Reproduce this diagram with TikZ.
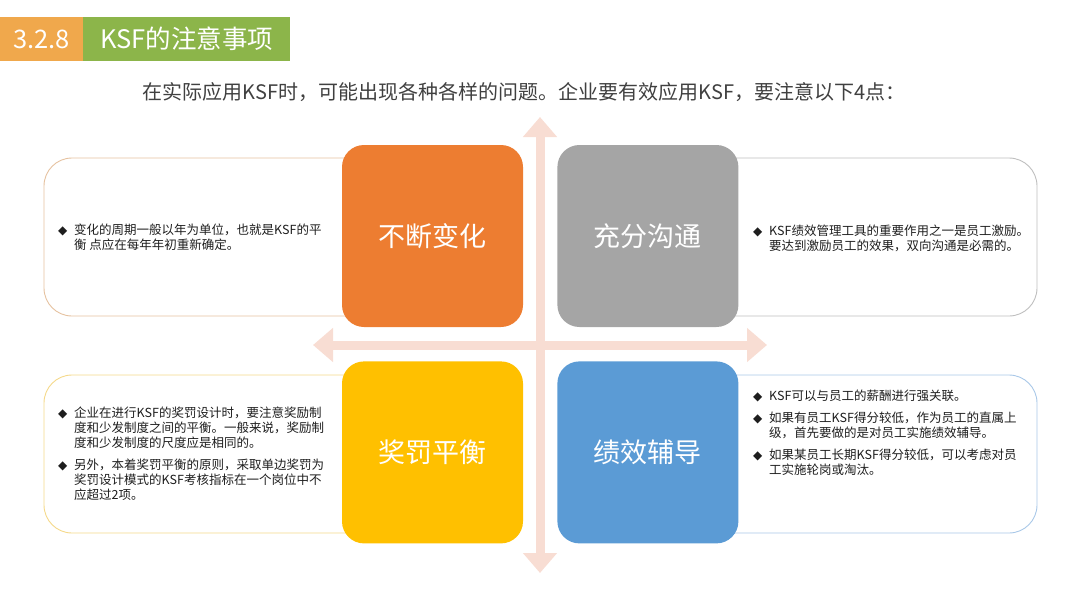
\documentclass[tikz,border=0pt]{standalone}
\usepackage{fontspec}
\setmainfont{Noto Sans CJK SC}
\newfontfamily\symfont{DejaVu Sans}
\usepackage{tikz}
\usetikzlibrary{arrows.meta, positioning}
\definecolor{numorange}{HTML}{F0A84C}
\definecolor{titlegreen}{HTML}{8CB54A}
\definecolor{qorange}{HTML}{ED7D31}
\definecolor{qgray}{HTML}{A5A5A5}
\definecolor{qyellow}{HTML}{FFC000}
\definecolor{qblue}{HTML}{5B9BD5}
\definecolor{crosspink}{HTML}{F8DDD3}
\definecolor{bodytext}{HTML}{1E1E1E}
\definecolor{subtext}{HTML}{404040}
\definecolor{edgeorange}{HTML}{E6C2A0}
\definecolor{edgegray}{HTML}{BFBFBF}
\definecolor{edgeyellow}{HTML}{F5D98A}
\definecolor{edgeblue}{HTML}{A9C8E8}
\newcommand{\dmd}{\makebox[16pt][l]{\symfont\fontsize{12}{12}\selectfont ◆}}
\newcommand{\noteindent}{\hspace*{16pt}}

\begin{document}
\begin{tikzpicture}[
  x=1pt, y=-1pt,
  every node/.style={inner sep=0pt},
  titlebar/.style={minimum height=44pt, text=white, font=\fontsize{25.5}{26}\selectfont},
  quad/.style={rounded corners=22pt, minimum width=181pt, minimum height=182pt,
               text=white, font=\fontsize{27}{27}\selectfont},
  notebox/.style={draw, fill=white, line width=0.9pt, rounded corners=28pt,
                  minimum width=336pt, minimum height=158pt},
  notetext/.style={align=left, text=bodytext, font=\fontsize{12.5}{15}\selectfont},
  cross/.style={line width=9pt, color=crosspink,
                {Triangle[width=33pt,length=20pt]}-{Triangle[width=33pt,length=20pt]}}
]
  \useasboundingbox (0,0) rectangle (1080,608);

  % title bar
  \node[titlebar, fill=numorange, minimum width=83pt] (num) at (41.5,39) {3.2.8};
  \node[titlebar, fill=titlegreen, minimum width=207pt, right=0pt of num] (title)
    {KSF的注意事项};
  \node[font=\fontsize{20}{20}\selectfont, text=subtext] (lead) at (524,92)
    {在实际应用KSF时，可能出现各种各样的问题。企业要有效应用KSF，要注意以下4点：};

  % side notes
  \node[notebox, draw=edgeorange] (changebox) at (212,237) {};
  \node[notebox, draw=edgegray] (talkbox) at (869,237) {};
  \node[notebox, draw=edgeyellow] (balancebox) at (212,454) {};
  \node[notebox, draw=edgeblue] (coachbox) at (869,454) {};

  \node[notetext, anchor=west] (changetxt) at (58,237.5)
    {\dmd 变化的周期一般以年为单位，也就是KSF的平\\
     \noteindent 衡 点应在每年年初重新确定。};
  \node[notetext, anchor=west] (talktxt) at (753,238.5)
    {\dmd KSF绩效管理工具的重要作用之一是员工激励。\\
     \noteindent 要达到激励员工的效果，双向沟通是必需的。};
  \node[notetext, anchor=west] (balancetxt) at (58,453.5)
    {\dmd 企业在进行KSF的奖罚设计时，要注意奖励制\\
     \noteindent 度和少发制度之间的平衡。一般来说，奖励制\\
     \noteindent 度和少发制度的尺度应是相同的。\\[7pt]
     \dmd 另外，本着奖罚平衡的原则，采取单边奖罚为\\
     \noteindent 奖罚设计模式的KSF考核指标在一个岗位中不\\
     \noteindent 应超过2项。};
  \node[notetext, anchor=north west] (coachtxt) at (753,390)
    {\dmd KSF可以与员工的薪酬进行强关联。\\[7pt]
     \dmd 如果有员工KSF得分较低，作为员工的直属上\\
     \noteindent 级，首先要做的是对员工实施绩效辅导。\\[7pt]
     \dmd 如果某员工长期KSF得分较低，可以考虑对员\\
     \noteindent 工实施轮岗或淘汰。};

  % four squares
  \node[quad, fill=qorange] (change) at (432.5,236) {不断变化};
  \node[quad, fill=qgray, right=34pt of change] (talk) {充分沟通};
  \node[quad, fill=qyellow, below=34pt of change] (balance) {奖罚平衡};
  \node[quad, fill=qblue, right=34pt of balance] (coach) {绩效辅导};

  % cross
  \coordinate (up) at (540,117);
  \coordinate (down) at (540,573);
  \coordinate (lft) at (313,345);
  \coordinate (rgt) at (767,345);
  \draw[cross] (up) -- (down);
  \draw[cross] (lft) -- (rgt);
\end{tikzpicture}
\end{document}
